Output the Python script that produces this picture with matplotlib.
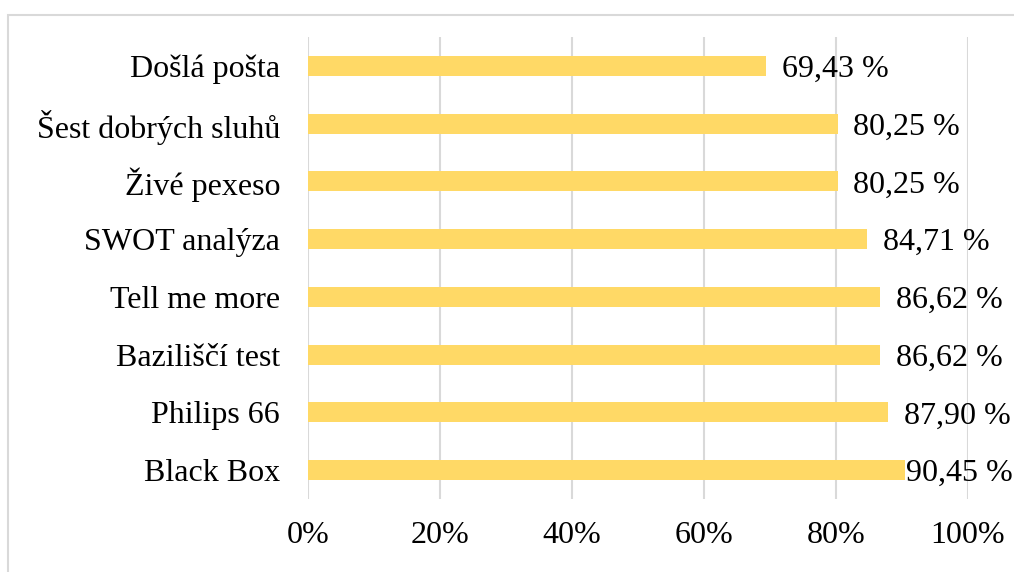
import matplotlib.pyplot as plt
from matplotlib.patches import Rectangle

plt.rcParams['font.family'] = ['Liberation Serif', 'DejaVu Serif']

categories = ["Došlá pošta", "Šest dobrých sluhů", "Živé pexeso", "SWOT analýza",
              "Tell me more", "Baziliščí test", "Philips 66", "Black Box"]
values = [69.43, 80.25, 80.25, 84.71, 86.62, 86.62, 87.90, 90.45]
labels = ["69,43 %", "80,25 %", "80,25 %", "84,71 %", "86,62 %", "86,62 %", "87,90 %", "90,45 %"]
xticks = [0, 20, 40, 60, 80, 100]
xtick_labels = ["0%", "20%", "40%", "60%", "80%", "100%"]

fig = plt.figure(figsize=(10.14, 5.72), dpi=100)
ax = fig.add_axes([308 / 1014, 1 - 499 / 572, 660 / 1014, 462 / 572])

ypos = list(range(len(categories)))
ax.barh(ypos, values, height=0.35, color='#FFD966', zorder=3)
ax.set_ylim(len(categories) - 0.5, -0.5)
ax.set_xlim(0, 100)

ax.set_yticks(ypos)
ax.set_yticklabels(categories, fontsize=23)
ax.set_xticks(xticks)
ax.set_xticklabels(xtick_labels, fontsize=23)
ax.tick_params(axis='both', length=0)
ax.tick_params(axis='x', pad=16)
ax.tick_params(axis='y', pad=20)
ax.grid(axis='x', color='#D9D9D9', linewidth=1.5, zorder=0)
for s in ax.spines.values():
    s.set_visible(False)

# labels sit just past the bar end, but Excel keeps them inside the chart area
for i, (v, lab) in enumerate(zip(values, labels)):
    x = min(v + 2.4, 90.6)
    ax.text(x, i, lab, fontsize=23, va='center_baseline', ha='left', zorder=4)

# chart area border (only top and left show in the crop)
fig.patches.append(Rectangle((8 / 1014, -0.1), 1.2, 1.1 - 15 / 572,
                             transform=fig.transFigure, fill=False,
                             edgecolor='#D9D9D9', linewidth=1.5))

fig.savefig('out.png', dpi=100)
